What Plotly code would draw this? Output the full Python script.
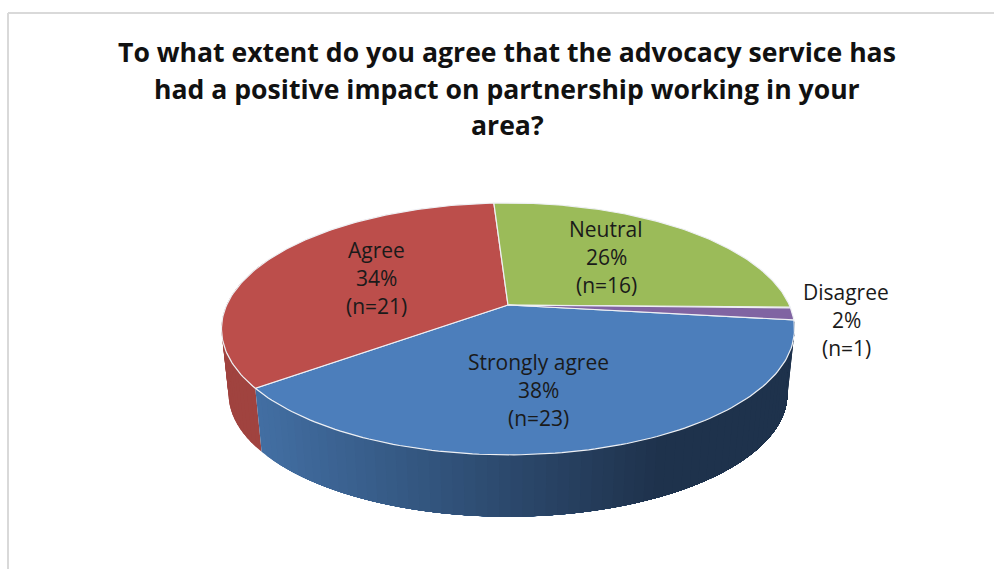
"""
    advocacy_partnership_pie.py
    3D looking pie, drawn as filled polygons on a pixel sized axis (plotly has no tilted pie)
"""
import numpy as np
import plotly.graph_objects as go

TITLE_LINES = [
    "To what extent do you agree that the advocacy service has",
    "had a positive impact on partnership working in your",
    "area?",
]
categories = ["Strongly agree", "Agree", "Neutral", "Disagree"]
counts = [23, 21, 16, 1]
percents = [38, 34, 26, 2]

top_colors = ["#4c7ebb", "#bc4e4b", "#9bbb59", "#8064a2"]
label_centers = [(538, 390), (376, 278), (606, 257), (846, 320)]

# pie geometry in pixels
CX, CY = 508, 305
RX, RY = 281.3, 121.4
PERSPECTIVE = 0.19
START_ANGLE = -6.9
DEPTH = 65.5
BOTTOM_SCALE = 0.975


def project(deg, scale=1.0, drop=0.0):
    """Project a point on the pie rim to pixels."""
    t = np.radians(deg)
    w = 1 + PERSPECTIVE * np.sin(t)
    return CX + scale * RX * np.cos(t) / w, CY - scale * RY * np.sin(t) / w + drop


def side_band(a0, a1, color):
    """One strip of the pie wall between two rim angles."""
    angles = np.linspace(a0, a1, 120)
    x0, y0 = project(angles)
    x1, y1 = project(angles[::-1], BOTTOM_SCALE, DEPTH)
    return go.Scatter(
        x=np.concatenate([x0, x1]),
        y=np.concatenate([y0, y1]),
        mode="none",
        fill="toself",
        fillcolor=color,
        hoverinfo="skip",
    )


def mix(c0, c1, f):
    f = min(max(f, 0), 1)
    rgb = [round(a + (b - a) * f) for a, b in zip(c0, c1)]
    return f"rgb({rgb[0]},{rgb[1]},{rgb[2]})"


spans = 360 * np.array(counts) / sum(counts)
edges = START_ANGLE - np.concatenate([[0], np.cumsum(spans)])

fig = go.Figure()

# red wall, only the part left of the blue one can be seen
for a in np.arange(edges[1], -200, -2):
    fig.add_trace(side_band(a, a - 5, "#a0433f"))

# blue wall, gets darker to the right; each strip runs under the next so no seams show
blue_angles = np.linspace(edges[1], edges[0], 70)
for a0, a1 in zip(blue_angles[:-1], blue_angles[1:]):
    mid_x = project((a0 + a1) / 2)[0]
    fig.add_trace(side_band(a0, edges[0], mix((66, 110, 162), (30, 50, 76), (mid_x - 260) / 400)))

# top of the pie
for i, color in enumerate(top_colors):
    angles = np.linspace(edges[i], edges[i + 1], 120)
    x, y = project(angles)
    fig.add_trace(
        go.Scatter(
            x=np.concatenate([[CX], x, [CX]]),
            y=np.concatenate([[CY], y, [CY]]),
            mode="lines",
            fill="toself",
            fillcolor=color,
            line={"width": 1.2, "color": "#eef0f4"},
            hoverinfo="skip",
        )
    )

annotations = []
for name, pct, n, (lx, ly) in zip(categories, percents, counts, label_centers):
    for row, line in enumerate([name, f"{pct}%", f"(n={n})"]):
        annotations.append(
            {
                "x": lx,
                "y": ly + (row - 1) * 28,
                "text": line,
                "showarrow": False,
                "font": {"family": "Open Sans", "size": 21, "color": "#1a1a1a"},
            }
        )
for row, line in enumerate(TITLE_LINES):
    annotations.append(
        {
            "x": 507,
            "y": 52 + row * 36.5,
            "text": f"<b>{line}</b>",
            "showarrow": False,
            "font": {"family": "Open Sans", "size": 26.6, "color": "#111111"},
        }
    )

fig.update_layout(
    width=994,
    height=569,
    margin={"l": 0, "r": 0, "t": 0, "b": 0},
    paper_bgcolor="white",
    plot_bgcolor="white",
    showlegend=False,
    xaxis={"range": [0, 994], "visible": False, "fixedrange": True},
    yaxis={"range": [569, 0], "visible": False, "fixedrange": True},
    annotations=annotations,
    shapes=[
        {"type": "line", "x0": 8, "x1": 8, "y0": 13, "y1": 569, "line": {"color": "#d9d9d9", "width": 2}},
        {"type": "line", "x0": 8, "x1": 994, "y0": 13, "y1": 13, "line": {"color": "#d9d9d9", "width": 2}},
    ],
)

fig.write_html("out.html", config={"displayModeBar": False}, post_script="document.body.style.margin='0';")
